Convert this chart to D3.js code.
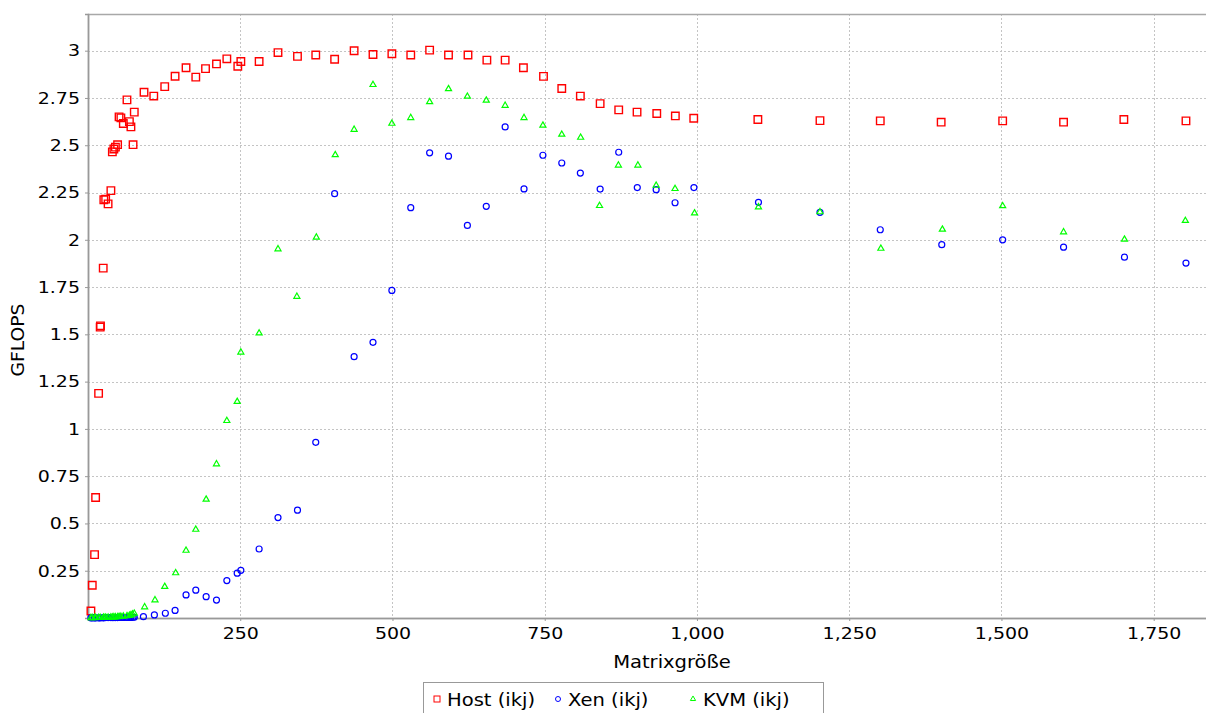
<!DOCTYPE html>
<html>
<head>
<meta charset="utf-8">
<script src="https://cdn.jsdelivr.net/npm/d3@7"></script>
<style>
  body { margin: 0; background: #fff; }
  svg { display: block; font-family: "DejaVu Sans", sans-serif; }
</style>
</head>
<body>
<svg id="chart" width="1206" height="713"></svg>
<script>
// series: Host (ikj)
const hostX = [4.8, 7, 10.8, 12.5, 17.4, 20, 20.5, 25, 26, 29, 33, 37.6, 40, 42.5, 45, 48.6, 51, 54, 58, 64, 68, 70.5, 74, 76,
  92, 108, 126, 143, 161, 177, 193, 211, 228, 246, 251, 281, 312, 344, 374, 405, 437, 468, 499, 530, 561, 592, 624, 655,
  685, 715, 748, 778, 808.5, 841, 871.5, 901.6, 934, 964.5, 994.7, 1100, 1202, 1301, 1401, 1502, 1602, 1701, 1803];
const hostY = [0.037, 0.173, 0.335, 0.637, 1.188, 1.538, 1.545, 1.85, 2.212, 2.215, 2.19, 2.26, 2.465, 2.48, 2.49, 2.503, 2.65, 2.645, 2.615, 2.74, 2.625, 2.597, 2.503, 2.675,
  2.78, 2.76, 2.81, 2.865, 2.91, 2.86, 2.905, 2.93, 2.957, 2.918, 2.943, 2.943, 2.99, 2.97, 2.977, 2.955, 3.0, 2.98, 2.984, 2.977, 3.003, 2.977, 2.977, 2.95,
  2.95, 2.91, 2.864, 2.8, 2.76, 2.72, 2.687, 2.675, 2.668, 2.655, 2.643, 2.636, 2.63, 2.629, 2.622, 2.629, 2.622, 2.636, 2.629];

// series: Xen (ikj)
const xenX = [4.8, 7, 10.8, 12.5, 17.4, 20, 25, 26, 29, 33, 37.6, 40, 42.5, 45, 48.6, 51, 54, 58, 64, 68, 70.5, 74, 76,
  91, 109, 127, 143, 161, 177, 194, 211, 228, 245, 251, 281, 312, 344, 374, 405, 437, 468, 499, 530, 561, 592, 623, 654,
  685, 716, 747, 778, 808.5, 841, 871.5, 902, 933, 964, 995, 1101, 1202, 1301, 1402, 1502, 1602, 1702, 1803];
const xenY = [0.001, 0.001, 0.001, 0.001, 0.001, 0.001, 0.001, 0.002, 0.002, 0.002, 0.002, 0.002, 0.002, 0.002, 0.002, 0.003, 0.003, 0.003, 0.003, 0.003, 0.003, 0.004, 0.004,
  0.007, 0.016, 0.025, 0.04, 0.122, 0.147, 0.113, 0.095, 0.198, 0.237, 0.252, 0.365, 0.531, 0.57, 0.929, 2.244, 1.382, 1.458, 1.732, 2.17, 2.46, 2.442, 2.076, 2.177,
  2.597, 2.269, 2.447, 2.406, 2.353, 2.268, 2.463, 2.276, 2.265, 2.196, 2.276, 2.198, 2.145, 2.053, 1.974, 2.0, 1.961, 1.908, 1.877];

// series: KVM (ikj)
const kvmX = [4.8, 7, 10.8, 12.5, 17.4, 20, 25, 26, 29, 33, 37.6, 40, 42.5, 45, 48.6, 51, 54, 58, 64, 68, 70.5, 73, 76,
  93, 110, 126, 144, 161, 177, 194, 211, 228, 245, 251, 281, 312, 343, 375, 406, 437, 468, 499, 530, 561, 592, 623, 654,
  685, 716, 747, 778, 809, 840, 871, 903, 933, 964, 996, 1101, 1202, 1302, 1403, 1502, 1602, 1702, 1802];
const kvmY = [0.001, 0.001, 0.001, 0.002, 0.002, 0.002, 0.002, 0.003, 0.003, 0.003, 0.004, 0.004, 0.005, 0.005, 0.006, 0.007, 0.008, 0.009, 0.011, 0.013, 0.016, 0.02, 0.024,
  0.058, 0.095, 0.166, 0.238, 0.357, 0.468, 0.627, 0.814, 1.043, 1.144, 1.405, 1.506, 1.951, 1.70, 2.013, 2.449, 2.583, 2.82, 2.615, 2.645, 2.729, 2.798, 2.758, 2.737,
  2.71, 2.645, 2.605, 2.557, 2.541, 2.18, 2.394, 2.394, 2.287, 2.27, 2.141, 2.173, 2.147, 1.954, 2.055, 2.179, 2.041, 2.002, 2.101];

const xTicks = [250, 500, 750, 1000, 1250, 1500, 1750];
const yTicks = [0.25, 0.5, 0.75, 1, 1.25, 1.5, 1.75, 2, 2.25, 2.5, 2.75, 3];
const seriesNames = ["Host (ikj)", "Xen (ikj)", "KVM (ikj)"];
const seriesColors = ["#ff0000", "#0000ff", "#00ff00"];

const svg = d3.select("#chart");
// the plot runs past the right edge of the picture
const plotLeft = 88, plotTop = 14, plotRight = 1256, plotBottom = 618;
const wide = "scale(1.15,1)"; // the original font is a bit wider than DejaVu

const x = d3.scaleLinear().domain([0, 1918]).range([plotLeft, plotRight]);
const y = d3.scaleLinear().domain([0, 3.194]).range([plotBottom, plotTop]);

// grid
const grid = svg.append("g");
grid.selectAll("line.gx").data(xTicks).enter().append("line")
  .attr("x1", d => Math.round(x(d)) + 0.5).attr("x2", d => Math.round(x(d)) + 0.5)
  .attr("y1", plotTop).attr("y2", plotBottom)
  .attr("stroke", "#c4c4c4").attr("stroke-dasharray", "2,2");
grid.selectAll("line.gy").data(yTicks).enter().append("line")
  .attr("y1", d => Math.round(y(d)) + 0.5).attr("y2", d => Math.round(y(d)) + 0.5)
  .attr("x1", plotLeft).attr("x2", plotRight)
  .attr("stroke", "#c4c4c4").attr("stroke-dasharray", "2,2");

// plot outline
svg.append("rect")
  .attr("x", plotLeft + 0.5).attr("y", plotTop + 0.5)
  .attr("width", plotRight - plotLeft).attr("height", plotBottom - plotTop)
  .attr("fill", "none").attr("stroke", "#a8a8a8").attr("stroke-width", 1.5);

// axes
const xAxis = svg.append("g")
  .attr("transform", `translate(0,${plotBottom})`)
  .call(d3.axisBottom(x).tickValues(xTicks).tickFormat(d3.format(",")).tickSize(3).tickPadding(6));
const yAxis = svg.append("g")
  .attr("transform", `translate(${plotLeft},0)`)
  .call(d3.axisLeft(y).tickValues(yTicks).tickFormat(d => String(d)).tickSize(3).tickPadding(4));
[xAxis, yAxis].forEach(a => {
  a.select(".domain").attr("stroke", "#999").attr("stroke-width", 1.5);
  a.selectAll(".tick line").attr("stroke", "#999");
  a.selectAll(".tick text").attr("font-size", 16.5).attr("fill", "#000")
    .attr("font-family", "DejaVu Sans").attr("transform", wide);
});

svg.append("text")
  .attr("transform", `translate(672,668) ${wide}`)
  .attr("text-anchor", "middle").attr("font-size", 17)
  .text("Matrixgröße");
svg.append("text")
  .attr("transform", "translate(24,340) rotate(-90) scale(1.1,1)")
  .attr("text-anchor", "middle").attr("font-size", 17)
  .text("GFLOPS");

// markers
const sq = d3.symbol().type(d3.symbolSquare).size(56);
const tri = d3.symbol().type(d3.symbolTriangle).size(16);

const plot = svg.append("g");
plot.selectAll("path.host").data(d3.zip(hostX, hostY)).enter().append("path")
  .attr("d", sq).attr("transform", d => `translate(${x(d[0])},${y(d[1])})`)
  .attr("fill", "none").attr("stroke", seriesColors[0]).attr("stroke-width", 1.4);
plot.selectAll("circle.xen").data(d3.zip(xenX, xenY)).enter().append("circle")
  .attr("cx", d => x(d[0])).attr("cy", d => y(d[1])).attr("r", 3)
  .attr("fill", "none").attr("stroke", seriesColors[1]).attr("stroke-width", 1.2);
plot.selectAll("path.kvm").data(d3.zip(kvmX, kvmY)).enter().append("path")
  .attr("d", tri).attr("transform", d => `translate(${x(d[0])},${y(d[1])})`)
  .attr("fill", "none").attr("stroke", seriesColors[2]).attr("stroke-width", 1.2);

// legend
const lg = svg.append("g");
lg.append("rect").attr("x", 423.5).attr("y", 682.5).attr("width", 400).attr("height", 40)
  .attr("fill", "#fff").attr("stroke", "#999");
const legendX = [437, 558, 693];
seriesNames.forEach((name, i) => {
  const cx = legendX[i], cy = 699;
  if (i === 0) {
    lg.append("rect").attr("x", cx - 3).attr("y", cy - 3).attr("width", 6).attr("height", 6)
      .attr("fill", "none").attr("stroke", seriesColors[0]);
  } else if (i === 1) {
    lg.append("circle").attr("cx", cx).attr("cy", cy).attr("r", 2.5)
      .attr("fill", "none").attr("stroke", seriesColors[1]);
  } else {
    lg.append("path").attr("d", d3.symbol().type(d3.symbolTriangle).size(12))
      .attr("transform", `translate(${cx},${cy})`)
      .attr("fill", "none").attr("stroke", seriesColors[2]);
  }
  lg.append("text").attr("transform", `translate(${cx + 10},706) ${wide}`)
    .attr("font-size", 17).text(name);
});
</script>
</body>
</html>
